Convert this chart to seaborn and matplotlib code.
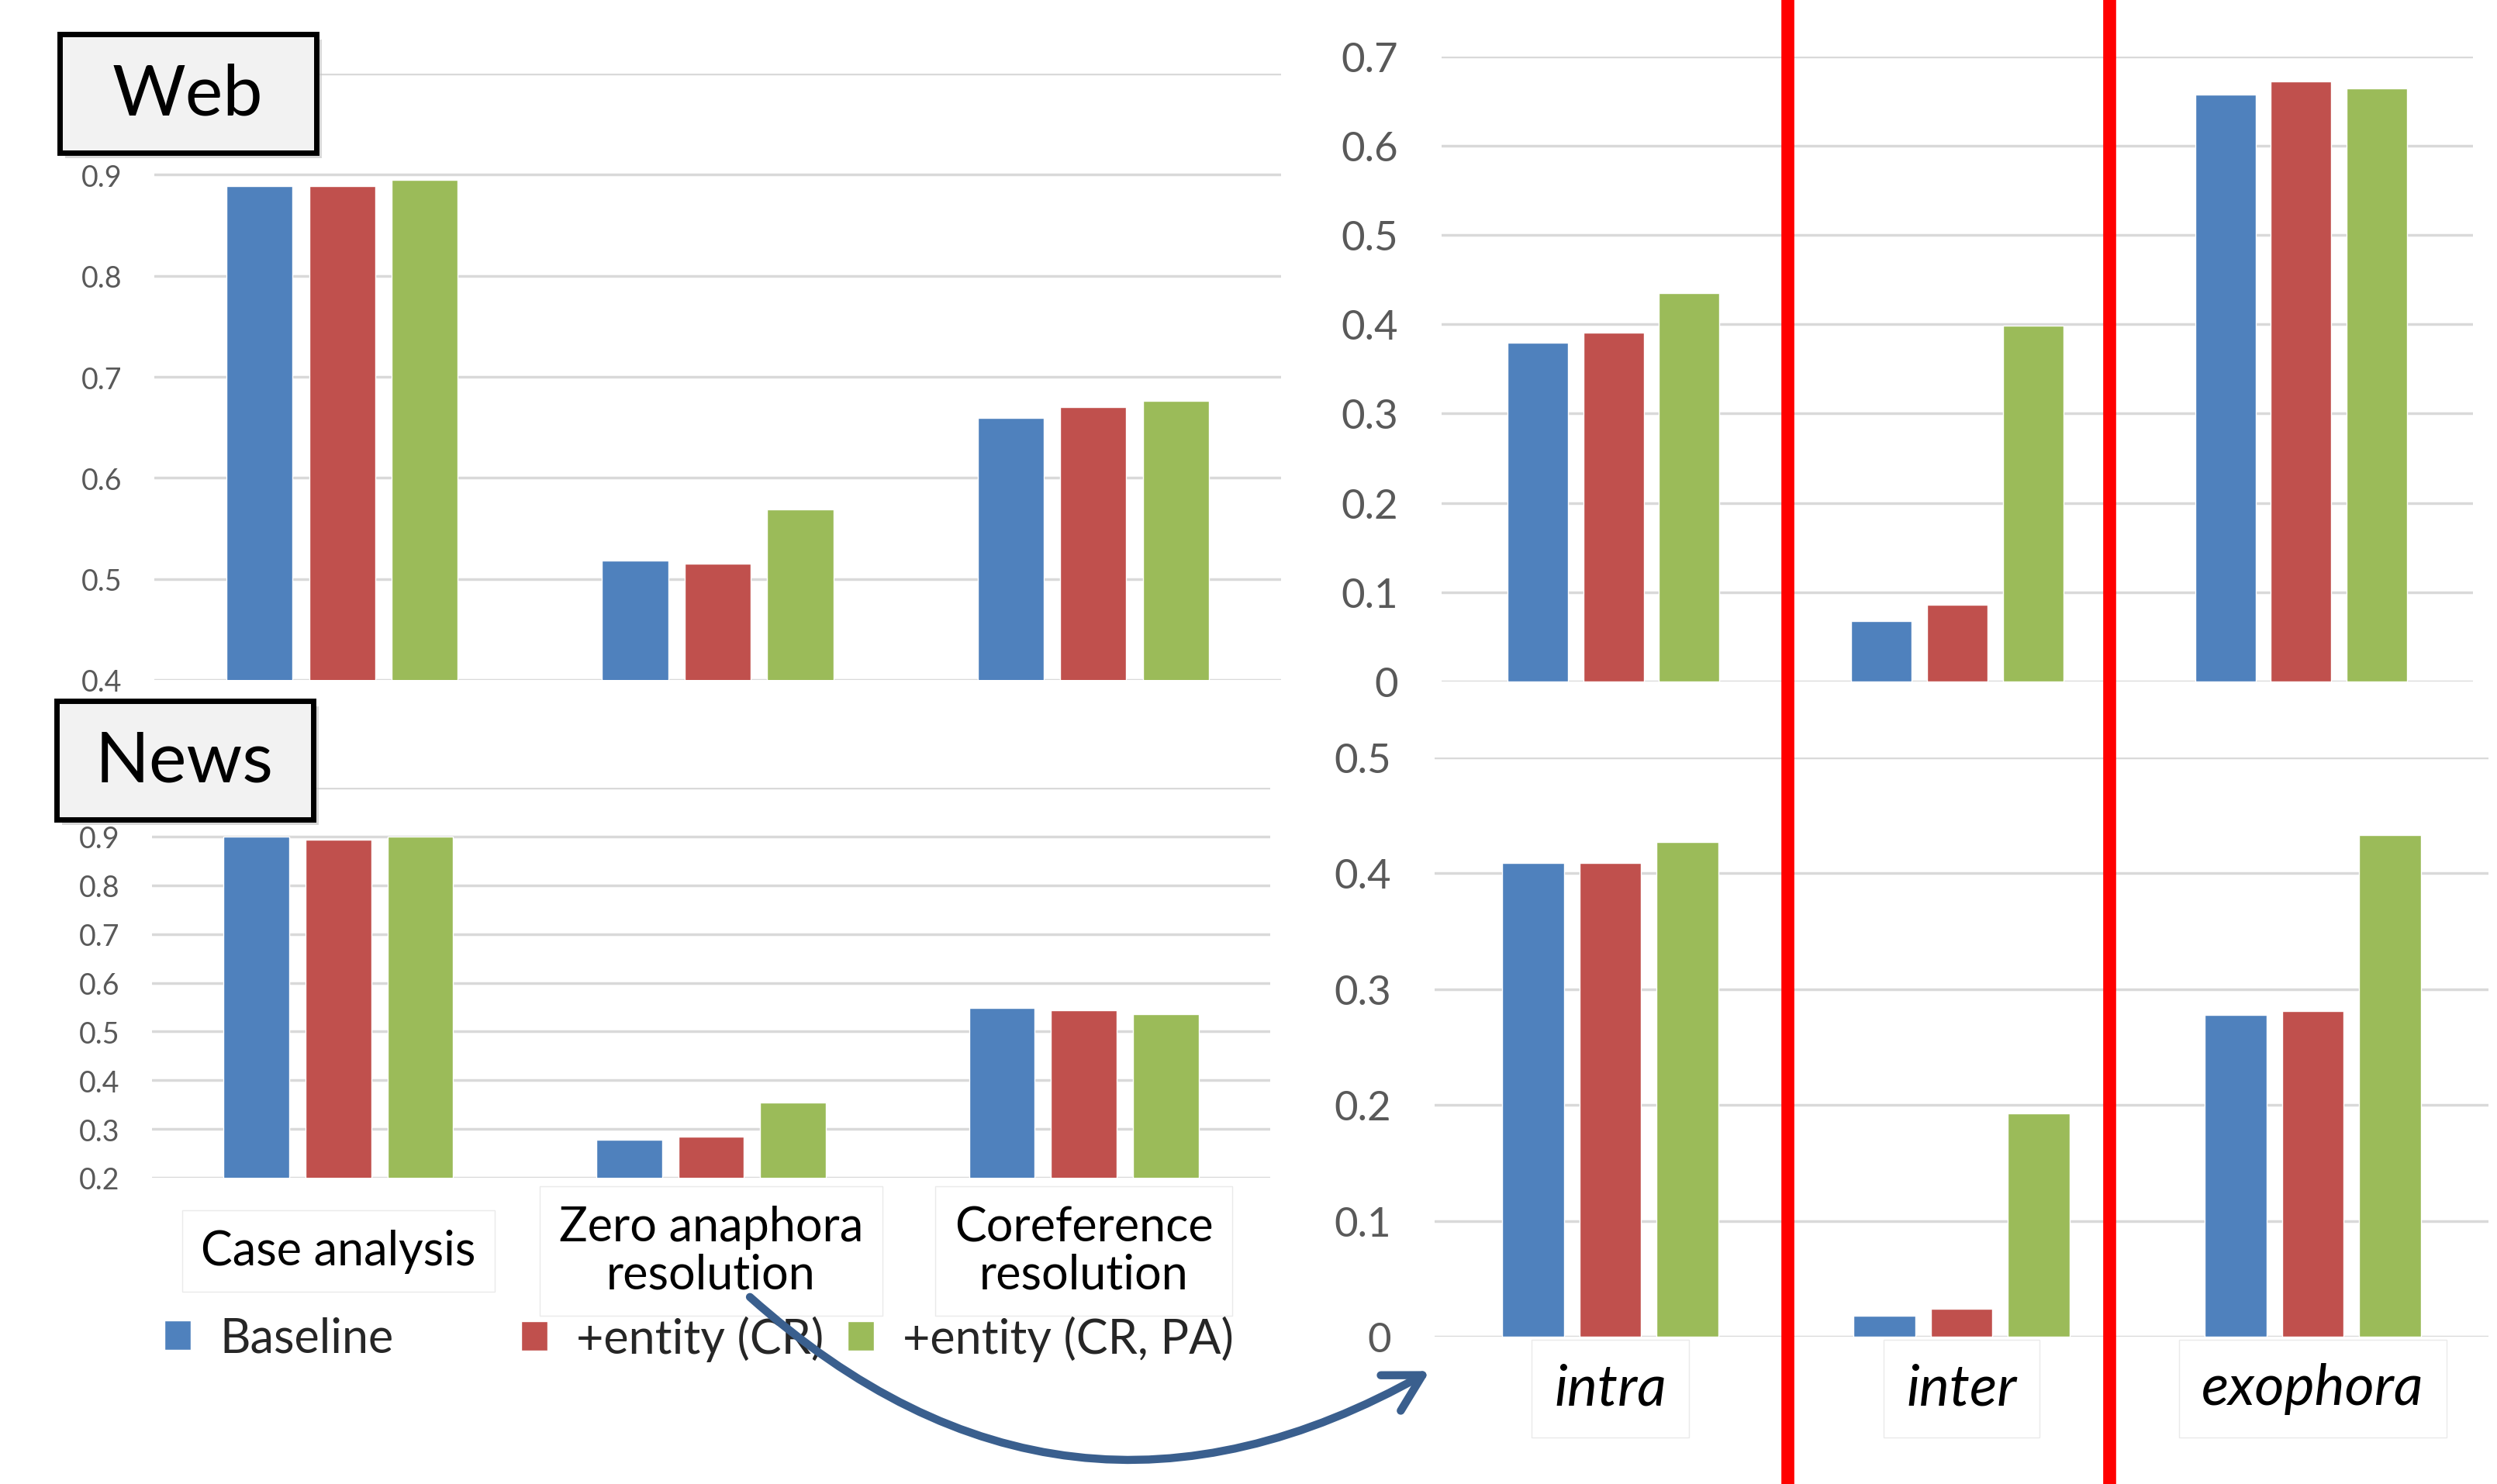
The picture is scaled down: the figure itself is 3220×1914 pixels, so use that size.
import matplotlib
matplotlib.use('Agg')
import matplotlib.pyplot as plt
import pandas as pd
import seaborn as sns
from matplotlib.patches import Rectangle, FancyArrowPatch
from matplotlib.lines import Line2D

# series / colours
systems = ['Baseline', '+entity (CR)', '+entity (CR, PA)']
colors = ['#4F81BD', '#C0504D', '#9BBB59']

# left: task scores (Web / News)
tasks = ['Case analysis', 'Zero anaphora\nresolution', 'Coreference\nresolution']
web_baseline = [0.889, 0.518, 0.659]
web_cr = [0.889, 0.515, 0.670]
web_crpa = [0.895, 0.569, 0.676]
news_baseline = [0.900, 0.278, 0.549]
news_cr = [0.894, 0.285, 0.543]
news_crpa = [0.900, 0.355, 0.536]

# right: zero anaphora by type (Web / News)
zero_types = ['intra', 'inter', 'exophora']
zweb_baseline = [0.379, 0.068, 0.657]
zweb_cr = [0.391, 0.086, 0.672]
zweb_crpa = [0.435, 0.398, 0.664]
znews_baseline = [0.409, 0.018, 0.278]
znews_cr = [0.409, 0.024, 0.281]
znews_crpa = [0.427, 0.193, 0.433]

web_ticks = [0.4, 0.5, 0.6, 0.7, 0.8, 0.9, 1.0]
news_ticks = [0.2, 0.3, 0.4, 0.5, 0.6, 0.7, 0.8, 0.9, 1.0]
zweb_ticks = [0, 0.1, 0.2, 0.3, 0.4, 0.5, 0.6, 0.7]
znews_ticks = [0, 0.1, 0.2, 0.3, 0.4, 0.5]

FONT = ['Lato', 'DejaVu Sans']
TICK_GRAY = '#595959'


def to_long(cats, *series):
    rows = []
    for name, vals in zip(systems, series):
        for c, v in zip(cats, vals):
            rows.append({'cat': c, 'system': name, 'score': v})
    return pd.DataFrame(rows)


def draw(ax, df, ticks, tick_size, pad, legend=False, hide_top=False):
    sns.barplot(data=df, x='cat', y='score', hue='system', palette=colors,
                saturation=1, width=0.66, gap=0.2, ax=ax, legend=legend)
    ax.set_ylim(ticks[0], ticks[-1])
    ax.set_yticks(ticks)
    labels = [f'{t:g}' for t in ticks]
    if hide_top:
        # the top label sits under the title box
        labels[-1] = ''
    ax.set_yticklabels(labels)
    ax.grid(axis='y', color='#D9D9D9', lw=2.5)
    ax.grid(axis='x', visible=False)
    ax.set_axisbelow(True)
    for s in ax.spines.values():
        s.set_visible(False)
    ax.tick_params(length=0)
    ax.tick_params(axis='y', labelsize=tick_size, labelcolor=TICK_GRAY,
                   pad=pad)
    ax.set_xlabel('')
    ax.set_ylabel('')


sns.set_style('white')
plt.rcParams['font.family'] = FONT

W, H = 3220, 1915
fig = plt.figure(figsize=(W / 100, H / 100), dpi=100)

ax_web = fig.add_axes([199 / W, 1 - 878 / H, 1453 / W, 782 / H])
ax_news = fig.add_axes([196 / W, 1 - 1520 / H, 1442 / W, 503 / H])
ax_zweb = fig.add_axes([1859 / W, 1 - 880 / H, 1330 / W, 806.5 / H])
ax_znews = fig.add_axes([1850 / W, 1 - 1725 / H, 1359 / W, 747 / H])

draw(ax_web, to_long(tasks, web_baseline, web_cr, web_crpa),
     web_ticks, 27, 30, hide_top=True)
draw(ax_news, to_long(tasks, news_baseline, news_cr, news_crpa),
     news_ticks, 27, 30, legend=True, hide_top=True)
draw(ax_zweb, to_long(zero_types, zweb_baseline, zweb_cr, zweb_crpa),
     zweb_ticks, 38, 40)
draw(ax_znews, to_long(zero_types, znews_baseline, znews_cr, znews_crpa),
     znews_ticks, 38, 40)

ax_web.tick_params(axis='x', labelbottom=False)
ax_zweb.tick_params(axis='x', labelbottom=False)

label_box = dict(boxstyle='square,pad=0.4', facecolor='white',
                 edgecolor='#EAEAEA', lw=1)

ax_news.tick_params(axis='x', pad=68, labelsize=44, labelcolor='black')
for lbl in ax_news.get_xticklabels():
    lbl.set_va('center')
    lbl.set_linespacing(1.1)
    lbl.set_bbox(label_box)

ax_znews.tick_params(axis='x', pad=48, labelsize=53, labelcolor='black')
for lbl in ax_znews.get_xticklabels():
    lbl.set_va('center')
    lbl.set_style('italic')
    lbl.set_bbox(label_box)

# legend, one entry at a time to keep the uneven spacing
handles, labels = ax_news.get_legend_handles_labels()
ax_news.get_legend().remove()
for h, l, x in zip(handles, labels, [212, 672, 1093]):
    fig.legend([h], [l], loc='center left',
               bbox_to_anchor=(x / W, 1 - 1727 / H),
               frameon=False, fontsize=44, borderpad=0,
               borderaxespad=0, handlelength=0.56, handleheight=0.6,
               handletextpad=0.6)

# title boxes
for name, x0, y0 in [('Web', 77, 45), ('News', 73, 905)]:
    fig.add_artist(Rectangle(((x0 + 7) / W, 1 - (y0 + 160) / H),
                             331 / W, 153 / H, transform=fig.transFigure,
                             facecolor='#BFBFBF', edgecolor='none',
                             alpha=0.6, zorder=5))
    fig.add_artist(Rectangle((x0 / W, 1 - (y0 + 153) / H), 331 / W, 153 / H,
                             transform=fig.transFigure, facecolor='#F2F2F2',
                             edgecolor='black', lw=5, zorder=6))
    fig.text((x0 + 165) / W, 1 - (y0 + 78) / H, name, ha='center',
             va='center', fontsize=66, color='black', zorder=7)

# red separators
for x in [2305, 2720]:
    fig.add_artist(Line2D([x / W, x / W], [0, 1], transform=fig.transFigure,
                          color='#FF0000', lw=12, zorder=4))

# curved arrow from the zero anaphora column to the right panels
arrow = FancyArrowPatch((965 / W, 1 - 1672 / H), (1846 / W, 1 - 1768 / H),
                        transform=fig.transFigure,
                        connectionstyle='arc3,rad=0.36',
                        arrowstyle='->,head_length=0.75,head_width=0.42',
                        mutation_scale=45, color='#3A5F8E', lw=7.5,
                        zorder=8)
fig.add_artist(arrow)

fig.savefig('out.png', dpi=100, facecolor='white')
